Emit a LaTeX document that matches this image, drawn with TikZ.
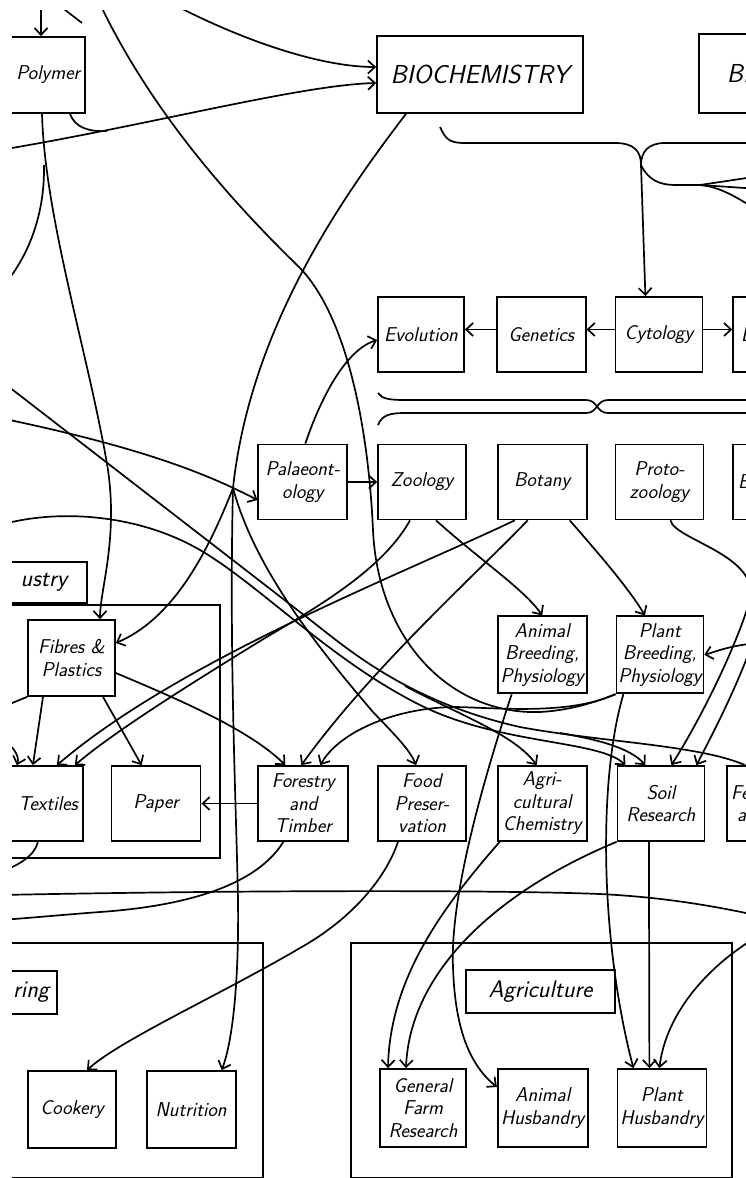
\documentclass[tikz,border=0pt]{standalone}
\usepackage{fontspec}
\usetikzlibrary{arrows.meta, positioning}

\newcommand{\chartfont}{\fontsize{20}{22.5}\selectfont\sffamily\itshape}
\newcommand{\headfont}{\fontsize{26}{30}\selectfont\sffamily\itshape}
\newcommand{\tagfont}{\fontsize{24}{28}\selectfont\sffamily\itshape}

\begin{document}
\begin{tikzpicture}[
    x=1pt, y=-1pt,
    line width=1.7pt,
    >={Straight Barb[length=7pt,width=13pt]},
    box/.style={rectangle, draw, inner sep=1pt, minimum width=88pt, minimum height=75pt, align=center, font=\chartfont},
    head/.style={box, font=\headfont, minimum width=206pt, minimum height=77pt},
    cutbox/.style={box, text width=72pt, align=left, inner xsep=8pt},
    tag/.style={rectangle, draw, inner sep=2pt, minimum height=43pt, font=\tagfont},
    frame/.style={rectangle, draw, inner sep=0pt, anchor=north west},
    arrow/.style={->}
]
\useasboundingbox (0,0) rectangle (746,1178);
\clip (12,10) rectangle (746,1178);

% Top row
\node[box, minimum height=76pt, text width=78pt, align=right, inner xsep=5pt] (polymer) at (41,75) {Polymer};
\node[head] (biochem) at (480,74.5) {BIOCHEMISTRY};
\node[head, anchor=west, text width=150pt, align=left, inner xsep=26pt, minimum height=79pt] (bioright) at (698,73.5) {BI};

% Cell level
\node[box, minimum width=86pt] (evolution) at (421,334.5) {Evolution};
\node[box, minimum width=89pt, right=31pt of evolution] (genetics) {Genetics};
\node[box, minimum width=87pt, right=28pt of genetics] (cytology) {Cytology};
\node[cutbox, right=29pt of cytology] (cellright) {E};

% Organism level
\node[box] (zoology) at (422,482) {Zoology};
\node[box, minimum width=89pt, left=29pt of zoology] (palaeo) {Palaeont-\\ology};
\node[box, minimum width=89pt, right=30pt of zoology] (botany) {Botany};
\node[box, right=27pt of botany] (protozoo) {Proto-\\zoology};
\node[cutbox, right=28pt of protozoo, inner xsep=5pt, text width=78pt] (orgright) {B};

% Industry
\node[tag, anchor=south east, text width=80pt, align=right, inner xsep=20pt, minimum height=41pt] (industry) at (88,604) {ustry};
\node[frame, minimum width=239pt, minimum height=253pt] (indframe) at (-20,604) {};
\node[box, minimum width=87pt, minimum height=76pt] (fibres) at (71.5,658) {Fibres \&\\Plastics};

% Applied row
\node[box] (foodpres) at (422,803.5) {Food\\Preser-\\vation};
\node[box, minimum width=90pt, left=28pt of foodpres] (forestry) {Forestry\\and\\Timber};
\node[box, minimum width=89pt, left=56pt of forestry] (paper) {Paper};
\node[box, text width=86pt, align=right, inner xsep=5pt, left=27pt of paper] (textiles) {Textiles};
\node[box, minimum width=89pt, right=30pt of foodpres] (agrichem) {Agri-\\cultural\\Chemistry};
\node[box, minimum width=87pt, right=29pt of agrichem] (soil) {Soil\\Research};
\node[cutbox, right=21pt of soil, inner xsep=4pt, text width=80pt] (appright) {Fe\\\hspace*{6pt}a};

% Breeding
\node[box, minimum width=89pt, minimum height=77pt, above=71pt of agrichem] (animbreed) {Animal\\Breeding,\\Physiology};
\node[box, minimum width=87pt, minimum height=77pt, right=28pt of animbreed] (plantbreed) {Plant\\Breeding,\\Physiology};

% Bottom frames
\node[frame, minimum width=282pt, minimum height=235pt] (homeframe) at (-20,942) {};
\node[tag, anchor=east, text width=84pt, align=right, inner xsep=8pt] (homelabel) at (58,992.5) {ring};
\node[box, minimum height=77pt] (cookery) at (72,1109.5) {Cookery};
\node[box, minimum width=89pt, minimum height=77pt, right=29pt of cookery] (nutrition) {Nutrition};

\node[frame, minimum width=381pt, minimum height=235pt] (agriframe) at (350,942) {};
\node[tag, minimum width=149pt] (agrilabel) at (540.5,991.5) {Agriculture};
\node[box, minimum width=86pt, minimum height=78pt] (genfarm) at (423,1108) {General\\Farm\\Research};
\node[box, minimum width=90pt, minimum height=78pt, right=30pt of genfarm] (animhusb) {Animal\\Husbandry};
\node[box, minimum width=89pt, minimum height=78pt, right=28pt of animhusb] (planthusb) {Plant\\Husbandry};

% Free ends and junctions
\coordinate (polytop) at (41,0);
\coordinate (stubA) at (60,6);
\coordinate (stubB) at (82,23);
\coordinate (bioin) at (165,0);
\coordinate (leftA) at (0,150);
\coordinate (polyjoin) at (107,131);
\coordinate (polybr) at (44,165);
\coordinate (leftB) at (0,290);
\coordinate (topA) at (98,0);
\coordinate (jn) at (233,488);
\coordinate (leftC) at (0,418);
\coordinate (leftD) at (0,380);
\coordinate (leftE) at (0,525);
\coordinate (splitA) at (405,686);
\coordinate (splitB) at (560,733);
\coordinate (leftF) at (0,708);
\coordinate (leftG) at (0,738);
\coordinate (leftH) at (0,872);
\coordinate (leftI) at (0,920);
\coordinate (leftJ) at (0,895);
\coordinate (rightA) at (760,916);
\coordinate (rightB) at (760,935);
\coordinate (rightC) at (760,643);
\coordinate (rightD) at (760,620);
\coordinate (brace) at (641,165);
\coordinate (braceL) at (440,127);
\coordinate (braceR) at (760,143);
\coordinate (fan) at (700,185);

% Top connectors
\draw[arrow] (polytop) -- (polymer.north);
\draw (stubA) -- (stubB);
\draw[arrow] (bioin) .. controls (240,40) and (320,67) .. ([yshift=7.5pt]biochem.west);
\draw[arrow] (leftA) .. controls (150,125) and (300,85) .. ([yshift=-8.5pt]biochem.west);
\draw ([xshift=29pt]polymer.south) .. controls (75,128) and (90,132) .. (polyjoin);
\draw[arrow] ([xshift=1pt]polymer.south) .. controls (45,220) and (90,360) .. (108,470)
    .. controls (118,540) and (100,590) .. ([xshift=28.5pt]fibres.north);
\draw (polybr) .. controls (45,220) and (25,262) .. (leftB);
\draw (topA) .. controls (150,110) and (230,200) .. (300,268)
    .. controls (345,315) and (368,420) .. (373,530)
    .. controls (378,640) and (450,715) .. (540,712)
    .. controls (575,710) and (600,700) .. (plantbreed.south west);

% Brace under the top row
\draw (braceL) .. controls (446,140) and (450,143) .. (465,143) -- (615,143)
    .. controls (635,143) and (641,152) .. (brace);
\draw (braceR) -- (665,143) .. controls (648,143) and (641,152) .. (brace);
\draw (brace) .. controls (648,180) and (660,185) .. (675,185) -- (fan);
\draw (fan) -- (760,176);
\draw (fan) -- (760,189);
\draw (fan) .. controls (720,187) and (735,196) .. (760,212);
\draw[arrow] (brace) -- ([xshift=-13.5pt]cytology.north);

% Cell level
\draw[arrow] ([yshift=5pt]genetics.west) -- ([yshift=5pt]evolution.east);
\draw[arrow] ([yshift=5pt]cytology.west) -- ([yshift=5pt]genetics.east);
\draw[arrow] ([yshift=5pt]cytology.east) -- ([yshift=5pt]cellright.west);

% Crossed double line
\draw (378,393) .. controls (382,399) and (390,400) .. (405,400) -- (586,400)
    .. controls (598,400) and (596,413) .. (608,413) -- (760,413);
\draw (378,425) .. controls (382,415) and (390,413) .. (405,413) -- (586,413)
    .. controls (598,413) and (596,400) .. (608,400) -- (760,400);

% Biochemistry downwards
\draw ([xshift=-74pt]biochem.south) .. controls (340,200) and (250,330) .. (jn);
\draw[arrow] (jn) .. controls (205,560) and (170,620) .. ([yshift=15pt]fibres.east);
\draw[arrow] (jn) .. controls (229,650) and (236,800) .. (238,900)
    .. controls (239,980) and (233,1040) .. ([xshift=30.5pt]nutrition.north);
\draw[arrow] (jn) .. controls (255,570) and (320,650) .. (373,712)
    .. controls (395,735) and (410,750) .. ([xshift=-6pt]foodpres.north);

% Organism level
\draw[arrow] (leftC) .. controls (130,445) and (200,470) .. ([yshift=-18pt]palaeo.west);
\draw[arrow] (palaeo) -- (zoology);
\draw[arrow] ([xshift=2.5pt]palaeo.north) .. controls (320,400) and (345,350) .. ([yshift=-5.5pt]evolution.west);
\draw[arrow] ([xshift=14pt]zoology.south) .. controls (480,560) and (525,590) .. (animbreed.north);
\draw[arrow] ([xshift=27.5pt]botany.south) .. controls (600,555) and (630,590) .. ([xshift=-15pt]plantbreed.north);
\draw[arrow] ([xshift=-12pt]zoology.south) .. controls (385,565) and (330,600) .. (270,635)
    .. controls (180,690) and (110,735) .. ([xshift=40pt]textiles.north);
\draw[arrow] ([xshift=-27.5pt]botany.south) .. controls (400,575) and (180,660) .. ([xshift=22pt]textiles.north);
\draw[arrow] ([xshift=-14.5pt]botany.south) .. controls (470,580) and (370,670) .. ([xshift=-2pt]forestry.north);
\draw[arrow] (plantbreed.south west) .. controls (570,715) and (500,708) .. (456,707)
    .. controls (400,707) and (340,730) .. ([xshift=17pt]forestry.north);
\draw[arrow] ([xshift=11pt]protozoo.south) .. controls (675,540) and (760,555) .. (750,600)
    .. controls (735,650) and (700,720) .. ([xshift=10.5pt]soil.north);
\draw[arrow] (rightD) .. controls (745,670) and (720,720) .. ([xshift=35.5pt]soil.north);
\draw[arrow] (rightC) .. controls (730,645) and (715,652) .. (plantbreed.east);

% Lines from the left
\draw (leftD) -- (300,612) .. controls (340,642) and (400,700) .. (520,727)
    .. controls (600,742) and (700,745) .. ([xshift=-26pt]appright.north);
\draw[arrow] (splitA) .. controls (460,715) and (515,735) .. ([xshift=-5.5pt]agrichem.north);
\draw[arrow] (splitB) .. controls (600,740) and (630,748) .. ([xshift=-15.5pt]soil.north);
\draw[arrow] (leftE) .. controls (60,508) and (140,515) .. (200,550)
    .. controls (260,585) and (330,660) .. (420,705)
    .. controls (500,745) and (600,740) .. ([xshift=-35.5pt]soil.north);

% Industry
\draw[arrow] ([xshift=-28.5pt]fibres.south) -- ([xshift=-2pt]textiles.north);
\draw[arrow] ([xshift=31.5pt]fibres.south) -- ([xshift=-14.5pt]paper.north);
\draw[arrow] ([yshift=-15pt]fibres.east) .. controls (180,700) and (250,730) .. ([xshift=-18pt]forestry.north);
\draw (fibres.south west) -- (leftF);
\draw[arrow] (leftG) .. controls (12,745) and (20,755) .. ([xshift=-18pt]textiles.north);
\draw[arrow] (forestry) -- (paper);
\draw ([xshift=3pt]textiles.south) .. controls (35,855) and (20,865) .. (leftH);
\draw ([xshift=-20pt]forestry.south) .. controls (260,880) and (200,905) .. (100,912)
    .. controls (60,915) and (30,918) .. (leftI);
\draw (leftJ) .. controls (250,890) and (500,890) .. (600,894)
    .. controls (660,897) and (710,905) .. (rightA);

% Down to the bottom frames
\draw[arrow] ([xshift=-24pt]foodpres.south) .. controls (385,880) and (350,920) .. (300,948)
    .. controls (220,995) and (120,1040) .. ([xshift=15pt]cookery.north);
\draw[arrow] ([xshift=-30.5pt]animbreed.south) .. controls (480,790) and (450,900) .. (453,967)
    .. controls (455,1030) and (470,1065) .. ([yshift=21pt]animhusb.west);
\draw[arrow] ([xshift=-42.5pt]agrichem.south) .. controls (440,910) and (390,980) .. ([xshift=-35pt]genfarm.north);
\draw[arrow] (soil.south west) .. controls (500,890) and (410,970) .. ([xshift=-17pt]genfarm.north);
\draw[arrow] ([xshift=-12pt]soil.south) -- ([xshift=-12.5pt]planthusb.north);
\draw[arrow] ([xshift=-36.5pt]plantbreed.south) .. controls (598,780) and (600,940) .. ([xshift=-28.5pt]planthusb.north);
\draw[arrow] (rightB) .. controls (700,970) and (665,1020) .. ([xshift=-2.5pt]planthusb.north);

\end{tikzpicture}
\end{document}
